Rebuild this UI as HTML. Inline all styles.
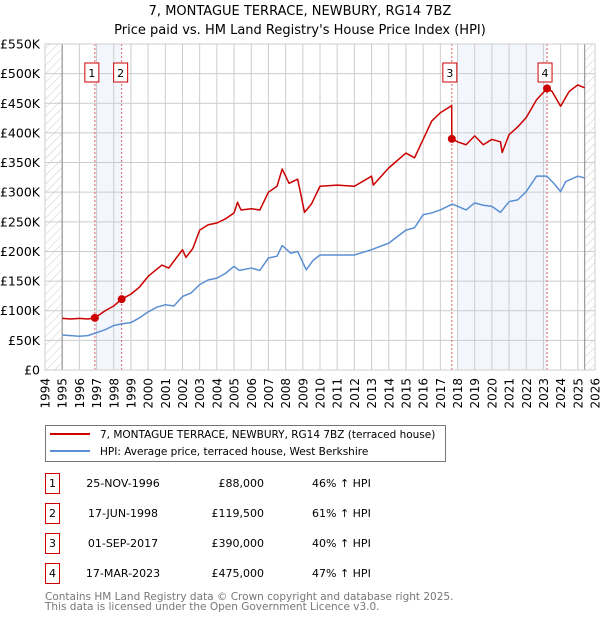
<!DOCTYPE html>
<html><head><meta charset="utf-8"><style>
body{margin:0;background:#fff;font-family:"DejaVu Sans","Liberation Sans",sans-serif;}
svg{display:block}
</style></head><body>
<svg id="c" width="600" height="620" viewBox="0 0 600 620" font-family="DejaVu Sans, Liberation Sans, sans-serif">
<defs><pattern id="hatch" width="6" height="6" patternUnits="userSpaceOnUse" patternTransform="rotate(45)"><line x1="0" y1="0" x2="0" y2="6" stroke="#ccc" stroke-width="1"/></pattern></defs>
<text x="300" y="15" text-anchor="middle" font-size="13">7, MONTAGUE TERRACE, NEWBURY, RG14 7BZ</text>
<text x="300" y="34" text-anchor="middle" font-size="13">Price paid vs. HM Land Registry's House Price Index (HPI)</text>
<g id="plot"></g>
<g>
<rect x="45.5" y="425.5" width="400" height="36" fill="#fff" stroke="#777"/>
<line x1="50" y1="434" x2="90" y2="434" stroke="#cc0000" stroke-width="2"/>
<text x="100" y="438" font-size="10.5">7, MONTAGUE TERRACE, NEWBURY, RG14 7BZ (terraced house)</text>
<line x1="50" y1="451" x2="90" y2="451" stroke="#5b8fd4" stroke-width="2"/>
<text x="100" y="455" font-size="10.5">HPI: Average price, terraced house, West Berkshire</text>
</g>
<g id="table" font-size="11"></g>
<text x="45" y="600" font-size="10.5" fill="#777">Contains HM Land Registry data © Crown copyright and database right 2025.</text>
<text x="45" y="610" font-size="10.5" fill="#777">This data is licensed under the Open Government Licence v3.0.</text>
</svg>
<script>
const hpiYears=[1995,1995.5,1996,1996.5,1997,1997.5,1998,1998.5,1999,1999.5,2000,2000.5,2001,2001.5,2002,2002.5,2003,2003.5,2004,2004.5,2005,2005.3,2006,2006.5,2007,2007.5,2007.8,2008.3,2008.7,2009.2,2009.6,2010,2011,2012,2013,2014,2015,2015.5,2016,2016.5,2017,2017.7,2018.5,2019,2019.5,2020,2020.5,2021,2021.5,2022,2022.6,2023.2,2023.6,2024,2024.3,2025,2025.4];
const hpiValues=[59,58,57,58,63,68,75,78,80,88,98,106,110,108,124,130,144,152,155,163,175,168,172,168,189,192,210,197,200,169,185,194,194,194,203,214,236,240,262,265,270,280,270,282,278,276,266,284,287,301,327,327,315,301,318,327,324];
const salesYears=[1996.9,1998.46,2017.67,2023.21];
const salesValues=[88,119.5,390,475];
const redYears=[1995,1995.5,1996,1996.5,1996.9,1997.5,1998,1998.46,1999,1999.5,2000,2000.8,2001.2,2002,2002.2,2002.6,2003,2003.5,2004,2004.5,2005,2005.2,2005.4,2006,2006.5,2007,2007.5,2007.8,2008.2,2008.7,2009.1,2009.5,2010,2011,2012,2013,2013.1,2014,2015,2015.5,2016,2016.5,2017,2017.66,2017.67,2018,2018.5,2019,2019.5,2020,2020.5,2020.6,2021,2021.5,2022,2022.6,2023.21,2023.5,2024,2024.5,2025,2025.4];
const redValues=[87,86,87,86,88,100,108,119.5,128,140,158,177,172,203,190,205,236,245,248,255,265,283,270,272,270,300,310,339,315,322,266,280,310,312,310,327,312,341,366,358,389,420,434,446,390,385,380,395,380,389,385,367,397,410,426,456,475,470,445,470,481,476];
const yTicks=[0,50,100,150,200,250,300,350,400,450,500,550];
const yLabels=["£0","£50K","£100K","£150K","£200K","£250K","£300K","£350K","£400K","£450K","£500K","£550K"];
const xTicks=[1994,1995,1996,1997,1998,1999,2000,2001,2002,2003,2004,2005,2006,2007,2008,2009,2010,2011,2012,2013,2014,2015,2016,2017,2018,2019,2020,2021,2022,2023,2024,2025,2026];
const tableDates=["25-NOV-1996","17-JUN-1998","01-SEP-2017","17-MAR-2023"];
const tablePrices=["£88,000","£119,500","£390,000","£475,000"];
const tableHpi=["46% ↑ HPI","61% ↑ HPI","40% ↑ HPI","47% ↑ HPI"];

const NS="http://www.w3.org/2000/svg";
const L=45,R=595,T=44,B=370;
const xs=y=>L+(y-1994)*(R-L)/32;
const ys=v=>B-v*(B-T)/550;
const g=document.getElementById('plot');
function el(tag,attrs,parent){const e=document.createElementNS(NS,tag);for(const k in attrs)e.setAttribute(k,attrs[k]);(parent||g).appendChild(e);return e;}
let h1=el('rect',{x:L,y:T,width:xs(1995)-L,height:B-T,fill:'url(#hatch)'});


let h2=el('rect',{x:xs(2025.4),y:T,width:R-xs(2025.4),height:B-T,fill:'url(#hatch)'});


[[0,1],[2,3]].forEach((p,i)=>{
 const start=i==0?salesYears[p[0]]:2018;
 const b=el('rect',{x:xs(start),y:T,width:xs(salesYears[p[1]])-xs(start),height:B-T,fill:'#eef3fc',opacity:0.7});
 
 
});
yTicks.forEach((v,i)=>{
 const ln=el('line',{x1:L,x2:R,y1:ys(v),y2:ys(v),stroke:'#ccc','stroke-width':1});
 
 
 const t=el('text',{x:L-5,y:ys(v)+4.5,'text-anchor':'end','font-size':12.5});
 t.textContent=yLabels[i];
 
 
});
xTicks.forEach(yr=>{
 const ln=el('line',{x1:xs(yr),x2:xs(yr),y1:T,y2:B,stroke:'#ccc','stroke-width':1});
 
 
 const t=el('text',{transform:`translate(${xs(yr)+4.5},${B+8}) rotate(-90)`,'text-anchor':'end','font-size':12});
 t.textContent=yr;
 
 
});
el('line',{x1:xs(1995),x2:xs(1995),y1:T,y2:B,stroke:'#888'});
el('line',{x1:xs(2025.4),x2:xs(2025.4),y1:T,y2:B,stroke:'#888'});
salesYears.forEach((yr,i)=>{
 const ln=el('line',{x1:xs(yr),x2:xs(yr),y1:T,y2:B,stroke:'#e06060','stroke-width':1,'stroke-dasharray':'2,2'});
 
 
 const off=i==0?-3:(i==1?-1:-2);
 const bx=el('rect',{x:xs(yr)+off-7,y:63,width:14,height:19,fill:'#fff',stroke:'#cc0000'});
 
 
 const t=el('text',{x:xs(yr)+off,y:77,'text-anchor':'middle','font-size':11});
 t.textContent=String(i+1);
 
 
});
const hp=el('polyline',{points:hpiYears.map((y,i)=>xs(y)+','+ys(hpiValues[i])).join(' '),fill:'none',stroke:'#5b8fd4','stroke-width':1.5,'stroke-linejoin':'round'});


const rp=el('polyline',{points:redYears.map((y,i)=>xs(y)+','+ys(redValues[i])).join(' '),fill:'none',stroke:'#cc0000','stroke-width':1.5,'stroke-linejoin':'round'});


salesYears.forEach((yr,i)=>{
 const c=el('circle',{cx:xs(yr),cy:ys(salesValues[i]),r:4,fill:'#cc0000'});
 
 
});
el('rect',{x:L,y:T,width:R-L,height:B-T,fill:'none',stroke:'#ccc'});
const tb=document.getElementById('table');
tableDates.forEach((d,i)=>{
 const cy=483+i*30;
 const b=el('rect',{x:45.5,y:cy-9.5,width:14,height:20,fill:'#fff',stroke:'#cc0000'},tb);
 
 
 const n=el('text',{x:52.5,y:cy+4,'text-anchor':'middle'},tb);n.textContent=String(i+1);
 
 
 const a=el('text',{x:123,y:cy+4,'text-anchor':'middle'},tb);a.textContent=d;
 
 
 const p=el('text',{x:264,y:cy+4,'text-anchor':'end'},tb);p.textContent=tablePrices[i];
 
 
 const q=el('text',{x:312,y:cy+4},tb);q.textContent=tableHpi[i];
 
 
});
</script>
</body></html>
